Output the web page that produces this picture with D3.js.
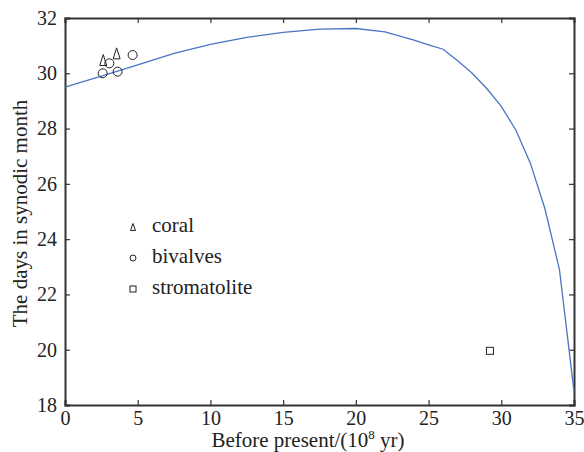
<!DOCTYPE html>
<html>
<head>
<meta charset="utf-8">
<script src="https://cdn.jsdelivr.net/npm/d3@7"></script>
</head>
<body style="margin:0">
<div id="chart"></div>
<script>
// Model curve: days in synodic month vs. time before present
const curveX = [0, 2.5, 5, 7.5, 10, 12.5, 15, 17.5, 20, 22, 24, 25, 26, 27, 28, 29, 30, 31, 32, 33, 34, 35];
const curveY = [29.5, 29.9, 30.3, 30.72, 31.05, 31.3, 31.48, 31.6, 31.62, 31.5, 31.2, 31.03, 30.87, 30.45, 30.0, 29.45, 28.8, 27.95, 26.75, 25.1, 22.9, 18.5];

// Observations
const coralX = [2.63, 3.55];
const coralY = [30.48, 30.72];
const bivalveX = [2.59, 3.05, 3.62, 4.65];
const bivalveY = [30.0, 30.36, 30.06, 30.66];
const stromX = [29.22];
const stromY = [19.96];

const xTicks = [0, 5, 10, 15, 20, 25, 30, 35];
const yTicks = [18, 20, 22, 24, 26, 28, 30, 32];
const legendNames = ['coral', 'bivalves', 'stromatolite'];

const width = 584, height = 452;
const margin = { left: 65, right: 10, top: 18, bottom: 47 };

const svg = d3.select('#chart').append('svg')
  .attr('width', width)
  .attr('height', height)
  .attr('font-family', 'Liberation Serif');

const x = d3.scaleLinear().domain([0, 35]).range([margin.left, width - margin.right]);
const y = d3.scaleLinear().domain([18, 32]).range([height - margin.bottom, margin.top]);

const tickLen = 5;
const axisColor = '#333';

// axes with inward ticks, all four sides
svg.append('g')
  .attr('transform', `translate(0,${y(18)})`)
  .call(d3.axisBottom(x).tickValues(xTicks).tickSize(-tickLen).tickPadding(tickLen + 1));
svg.append('g')
  .attr('transform', `translate(${x(0)},0)`)
  .call(d3.axisLeft(y).tickValues(yTicks).tickSize(-tickLen).tickPadding(tickLen + 3));
svg.append('g')
  .attr('transform', `translate(0,${y(32)})`)
  .call(d3.axisTop(x).tickValues(xTicks).tickSize(-tickLen).tickFormat(''));
svg.append('g')
  .attr('transform', `translate(${x(35)},0)`)
  .call(d3.axisRight(y).tickValues(yTicks).tickSize(-tickLen).tickFormat(''));

svg.selectAll('g')
  .attr('font-family', 'Liberation Serif')
  .attr('font-size', 20);
svg.selectAll('.domain').attr('stroke', axisColor).attr('stroke-width', 2);
svg.selectAll('.tick line').attr('stroke', axisColor).attr('stroke-width', 1.2);
svg.selectAll('.tick text').attr('fill', '#222');

// curve
const line = d3.line()
  .x(d => x(d[0]))
  .y(d => y(d[1]));
svg.append('path')
  .datum(d3.zip(curveX, curveY))
  .attr('fill', 'none')
  .attr('stroke', '#4a74c4')
  .attr('stroke-width', 1.3)
  .attr('d', line);

// markers
function triangle(g, cx, cy, w, h) {
  g.append('path')
    .attr('d', `M${cx},${cy - h / 2}L${cx + w / 2},${cy + h / 2}L${cx - w / 2},${cy + h / 2}Z`)
    .attr('fill', 'none').attr('stroke', '#222').attr('stroke-width', 1);
}

const marks = svg.append('g');
d3.zip(coralX, coralY).forEach(d => triangle(marks, x(d[0]), y(d[1]), 7, 11));

marks.selectAll('circle')
  .data(d3.zip(bivalveX, bivalveY))
  .join('circle')
  .attr('cx', d => x(d[0]))
  .attr('cy', d => y(d[1]))
  .attr('r', 4.5)
  .attr('fill', 'none')
  .attr('stroke', '#222')
  .attr('stroke-width', 1);

marks.selectAll('rect')
  .data(d3.zip(stromX, stromY))
  .join('rect')
  .attr('x', d => x(d[0]) - 3.5)
  .attr('y', d => y(d[1]) - 3.5)
  .attr('width', 7)
  .attr('height', 7)
  .attr('fill', 'none')
  .attr('stroke', '#222')
  .attr('stroke-width', 1);

// legend
const legend = svg.append('g');
const lx = 133, ly0 = 227, lstep = 31;
legendNames.forEach((name, i) => {
  const cy = ly0 + i * lstep;
  if (i === 0) triangle(legend, lx, cy, 5, 7);
  else if (i === 1) legend.append('circle').attr('cx', lx).attr('cy', cy).attr('r', 3)
    .attr('fill', 'none').attr('stroke', '#222').attr('stroke-width', 1);
  else legend.append('rect').attr('x', lx - 3).attr('y', cy - 3).attr('width', 6).attr('height', 6)
    .attr('fill', 'none').attr('stroke', '#222').attr('stroke-width', 1);
  legend.append('text')
    .attr('x', lx + 19)
    .attr('y', cy + 5)
    .attr('font-family', 'Liberation Serif')
    .attr('font-size', 21)
    .attr('fill', '#222')
    .text(name);
});

// axis titles
const xt = svg.append('text')
  .attr('x', 308)
  .attr('y', 447)
  .attr('text-anchor', 'middle')
  .attr('font-family', 'Liberation Serif')
  .attr('font-size', 21)
  .attr('fill', '#222');
xt.append('tspan').text('Before present/(10');
xt.append('tspan').attr('dy', -8).attr('font-size', 13).text('8');
xt.append('tspan').attr('dy', 8).text(' yr)');

svg.append('text')
  .attr('transform', `translate(27,${(y(18) + y(32)) / 2 + 2}) rotate(-90)`)
  .attr('text-anchor', 'middle')
  .attr('font-family', 'Liberation Serif')
  .attr('font-size', 21)
  .attr('fill', '#222')
  .text('The days in synodic month');
</script>
</body>
</html>
